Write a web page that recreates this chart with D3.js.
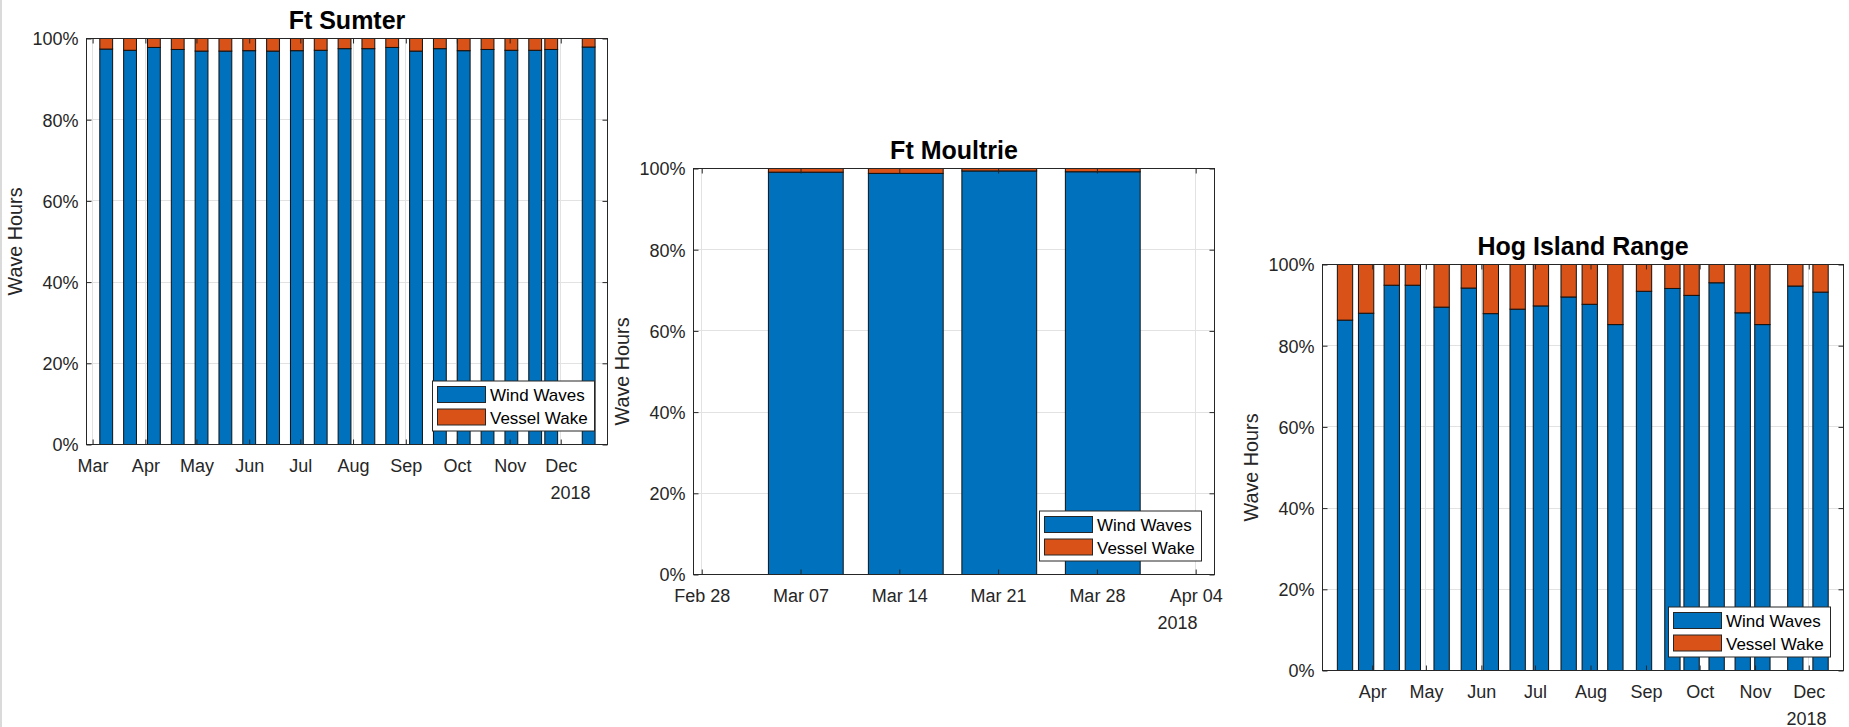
<!DOCTYPE html>
<html>
<head>
<meta charset="utf-8">
<script src="https://cdn.jsdelivr.net/npm/d3@7"></script>
<style>
  html, body { margin: 0; padding: 0; background: #fff; }
  svg text { font-family: "Liberation Sans", Arial, Helvetica, sans-serif; }
</style>
</head>
<body>
<svg id="chart" width="1849" height="727"></svg>
<script>
// ---- data -------------------------------------------------------------
const seriesNames = ["Wind Waves", "Vessel Wake"];
const seriesColors = ["#0072BD", "#D95319"];
const yTickValues = [0, 20, 40, 60, 80, 100];
const yearLabel = "2018";

// Ft Sumter: share of wave hours per sampling period (%)
const sumterDates = ["2018-03-09", "2018-03-23", "2018-04-06", "2018-04-20", "2018-05-04",
  "2018-05-18", "2018-06-01", "2018-06-15", "2018-06-29", "2018-07-13", "2018-07-27",
  "2018-08-10", "2018-08-24", "2018-09-07", "2018-09-21", "2018-10-05", "2018-10-19",
  "2018-11-02", "2018-11-16", "2018-11-25T10:00", "2018-12-17T10:00"];
const sumterWind = [97.4, 97.1, 97.8, 97.3, 96.9, 96.9, 97.0, 96.9, 97.0, 97.1, 97.5,
  97.5, 97.8, 96.9, 97.5, 97.0, 97.3, 97.1, 97.1, 97.3, 97.9];
const sumterVessel = [2.6, 2.9, 2.2, 2.7, 3.1, 3.1, 3.0, 3.1, 3.0, 2.9, 2.5,
  2.5, 2.2, 3.1, 2.5, 3.0, 2.7, 2.9, 2.9, 2.7, 2.1];
const sumterTicks = ["2018-03-01", "2018-04-01", "2018-05-01", "2018-06-01", "2018-07-01",
  "2018-08-01", "2018-09-01", "2018-10-01", "2018-11-01", "2018-12-01"];
const sumterLimits = ["2018-02-25T10:00", "2018-12-28T11:30"];

// Ft Moultrie
const moultrieDates = ["2018-03-07T09:00", "2018-03-14T11:00", "2018-03-21T02:00", "2018-03-28T10:00"];
const moultrieWind = [99.1, 98.8, 99.4, 99.2];
const moultrieVessel = [0.9, 1.2, 0.6, 0.8];
const moultrieTicks = ["2018-02-28", "2018-03-07", "2018-03-14", "2018-03-21", "2018-03-28", "2018-04-04"];
const moultrieLimits = ["2018-02-27T10:00", "2018-04-05T08:00"];

// Hog Island Range
const hogDates = ["2018-03-16T19:00", "2018-03-28T14:00", "2018-04-11T22:00", "2018-04-23T17:00",
  "2018-05-09T19:00", "2018-05-25T00:00", "2018-06-06T07:00", "2018-06-21T07:00",
  "2018-07-04T07:00", "2018-07-19T19:00", "2018-07-31T14:00", "2018-08-14T22:00",
  "2018-08-30T22:00", "2018-09-15T19:00", "2018-09-26T12:00", "2018-10-10T12:00",
  "2018-10-25T02:00", "2018-11-05T02:00", "2018-11-23T12:00", "2018-12-07T14:00"];
const hogWind = [86.3, 88.0, 94.9, 94.9, 89.5, 94.2, 87.9, 89.0, 89.8, 92.0,
  90.2, 85.2, 93.4, 94.1, 92.4, 95.5, 88.1, 85.2, 94.7, 93.2];
const hogVessel = [13.7, 12.0, 5.1, 5.1, 10.5, 5.8, 12.1, 11.0, 10.2, 8.0,
  9.8, 14.8, 6.6, 5.9, 7.6, 4.5, 11.9, 14.8, 5.3, 6.8];
const hogTicks = ["2018-04-01", "2018-05-01", "2018-06-01", "2018-07-01",
  "2018-08-01", "2018-09-01", "2018-10-01", "2018-11-01", "2018-12-01"];
const hogLimits = ["2018-03-04T05:00", "2018-12-20T10:00"];

// ---- layout -----------------------------------------------------------
const PW = 521, PH = 406;
const panels = [
  { title: "Ft Sumter", dates: sumterDates, wind: sumterWind, vessel: sumterVessel,
    ticks: sumterTicks, limits: sumterLimits, fmt: "%b", left: 86, top: 38 },
  { title: "Ft Moultrie", dates: moultrieDates, wind: moultrieWind, vessel: moultrieVessel,
    ticks: moultrieTicks, limits: moultrieLimits, fmt: "%b %d", left: 693, top: 168 },
  { title: "Hog Island Range", dates: hogDates, wind: hogWind, vessel: hogVessel,
    ticks: hogTicks, limits: hogLimits, fmt: "%b", left: 1322, top: 264 }
];

const AXIS = "#262626";
const GRID = "#e2e2e2";
const TICK_FONT = 18;

const svg = d3.select("#chart");

// thin frame line along the left edge of the figure window
svg.append("rect").attr("x", 0).attr("y", 0).attr("width", 2).attr("height", 727)
  .attr("fill", "#dadada");

const parseDate = s => new Date(s + (s.length === 10 ? "T00:00" : "") + "Z");

panels.forEach(p => {
  const g = svg.append("g").attr("transform", `translate(${p.left + 0.5},${p.top + 0.5})`);

  const x = d3.scaleUtc().domain(p.limits.map(parseDate)).range([0, PW]);
  const y = d3.scaleLinear().domain([0, 100]).range([PH, 0]);
  const tickDates = p.ticks.map(parseDate);

  // grid
  const grid = g.append("g");
  grid.selectAll("line.gy").data(yTickValues).join("line")
    .attr("x1", 0).attr("x2", PW)
    .attr("y1", d => Math.round(y(d))).attr("y2", d => Math.round(y(d)))
    .attr("stroke", GRID).attr("stroke-width", 1);
  grid.selectAll("line.gx").data(tickDates).join("line")
    .attr("x1", d => Math.round(x(d))).attr("x2", d => Math.round(x(d)))
    .attr("y1", 0).attr("y2", PH)
    .attr("stroke", GRID).attr("stroke-width", 1);

  // stacked bars
  const rows = p.dates.map((d, i) => ({
    date: parseDate(d), "Wind Waves": p.wind[i], "Vessel Wake": p.vessel[i]
  }));
  const stacked = d3.stack().keys(seriesNames)(rows);
  const times = rows.map(r => +r.date);
  const minGap = d3.min(d3.pairs(times), ([a, b]) => b - a);
  const half = 0.8 * minGap / 2;

  g.append("g").selectAll("g").data(stacked).join("g")
    .attr("fill", (s, i) => seriesColors[i])
    .selectAll("rect").data(s => s).join("rect")
    .attr("x", d => x(new Date(+d.data.date - half)))
    .attr("width", d => x(new Date(+d.data.date + half)) - x(new Date(+d.data.date - half)))
    .attr("y", d => y(d[1]))
    .attr("height", d => y(d[0]) - y(d[1]))
    .attr("stroke", "#111")
    .attr("stroke-width", 1);

  // axes (ticks point inward, mirrored on top and right)
  const fmt = d3.utcFormat(p.fmt);
  const xb = g.append("g").attr("transform", `translate(0,${PH})`)
    .call(d3.axisBottom(x).tickValues(tickDates).tickFormat(fmt)
      .tickSizeInner(-5).tickSizeOuter(0).tickPadding(15));
  const xt = g.append("g")
    .call(d3.axisTop(x).tickValues(tickDates).tickFormat("")
      .tickSizeInner(-5).tickSizeOuter(0));
  const yl = g.append("g")
    .call(d3.axisLeft(y).tickValues(yTickValues).tickFormat(d => d + "%")
      .tickSizeInner(-5).tickSizeOuter(0).tickPadding(8));
  const yr = g.append("g").attr("transform", `translate(${PW},0)`)
    .call(d3.axisRight(y).tickValues(yTickValues).tickFormat("")
      .tickSizeInner(-5).tickSizeOuter(0));

  [xb, xt, yl, yr].forEach(a => {
    a.select(".domain").remove();
    a.selectAll(".tick line").attr("stroke", AXIS).attr("stroke-width", 1);
    a.selectAll(".tick text").attr("fill", AXIS)
      .style("font-size", TICK_FONT + "px")
      .style("font-family", '"Liberation Sans", Arial, sans-serif');
  });
  yl.selectAll(".tick text").attr("dy", "0.36em");

  // box
  g.append("rect").attr("x", 0).attr("y", 0).attr("width", PW).attr("height", PH)
    .attr("fill", "none").attr("stroke", AXIS).attr("stroke-width", 1);

  // year under the date ticks
  g.append("text").attr("x", PW - 17).attr("y", PH + 54)
    .attr("text-anchor", "end").attr("fill", AXIS)
    .style("font-size", TICK_FONT + "px").text(yearLabel);

  // title
  g.append("text").attr("x", PW / 2).attr("y", -10)
    .attr("text-anchor", "middle").attr("fill", "#000")
    .style("font-size", "25px").style("font-weight", "bold").text(p.title);

  // y label
  g.append("text")
    .attr("transform", `translate(-65,${PH / 2}) rotate(-90)`)
    .attr("text-anchor", "middle").attr("fill", AXIS)
    .style("font-size", "19.8px").text("Wave Hours");

  // legend
  const lg = g.append("g").attr("transform", `translate(${PW - 175},${PH - 63.5})`);
  lg.append("rect").attr("width", 162).attr("height", 50)
    .attr("fill", "#fff").attr("stroke", AXIS).attr("stroke-width", 1);
  const items = lg.selectAll("g.item").data(seriesNames).join("g")
    .attr("transform", (d, i) => `translate(5,${5.5 + i * 22.5})`);
  items.append("rect").attr("width", 48).attr("height", 16)
    .attr("fill", (d, i) => seriesColors[i]).attr("stroke", AXIS).attr("stroke-width", 1);
  items.append("text").attr("x", 52.5).attr("y", 14.5)
    .attr("fill", "#000").style("font-size", "17px").text(d => d);
});
</script>
</body>
</html>
